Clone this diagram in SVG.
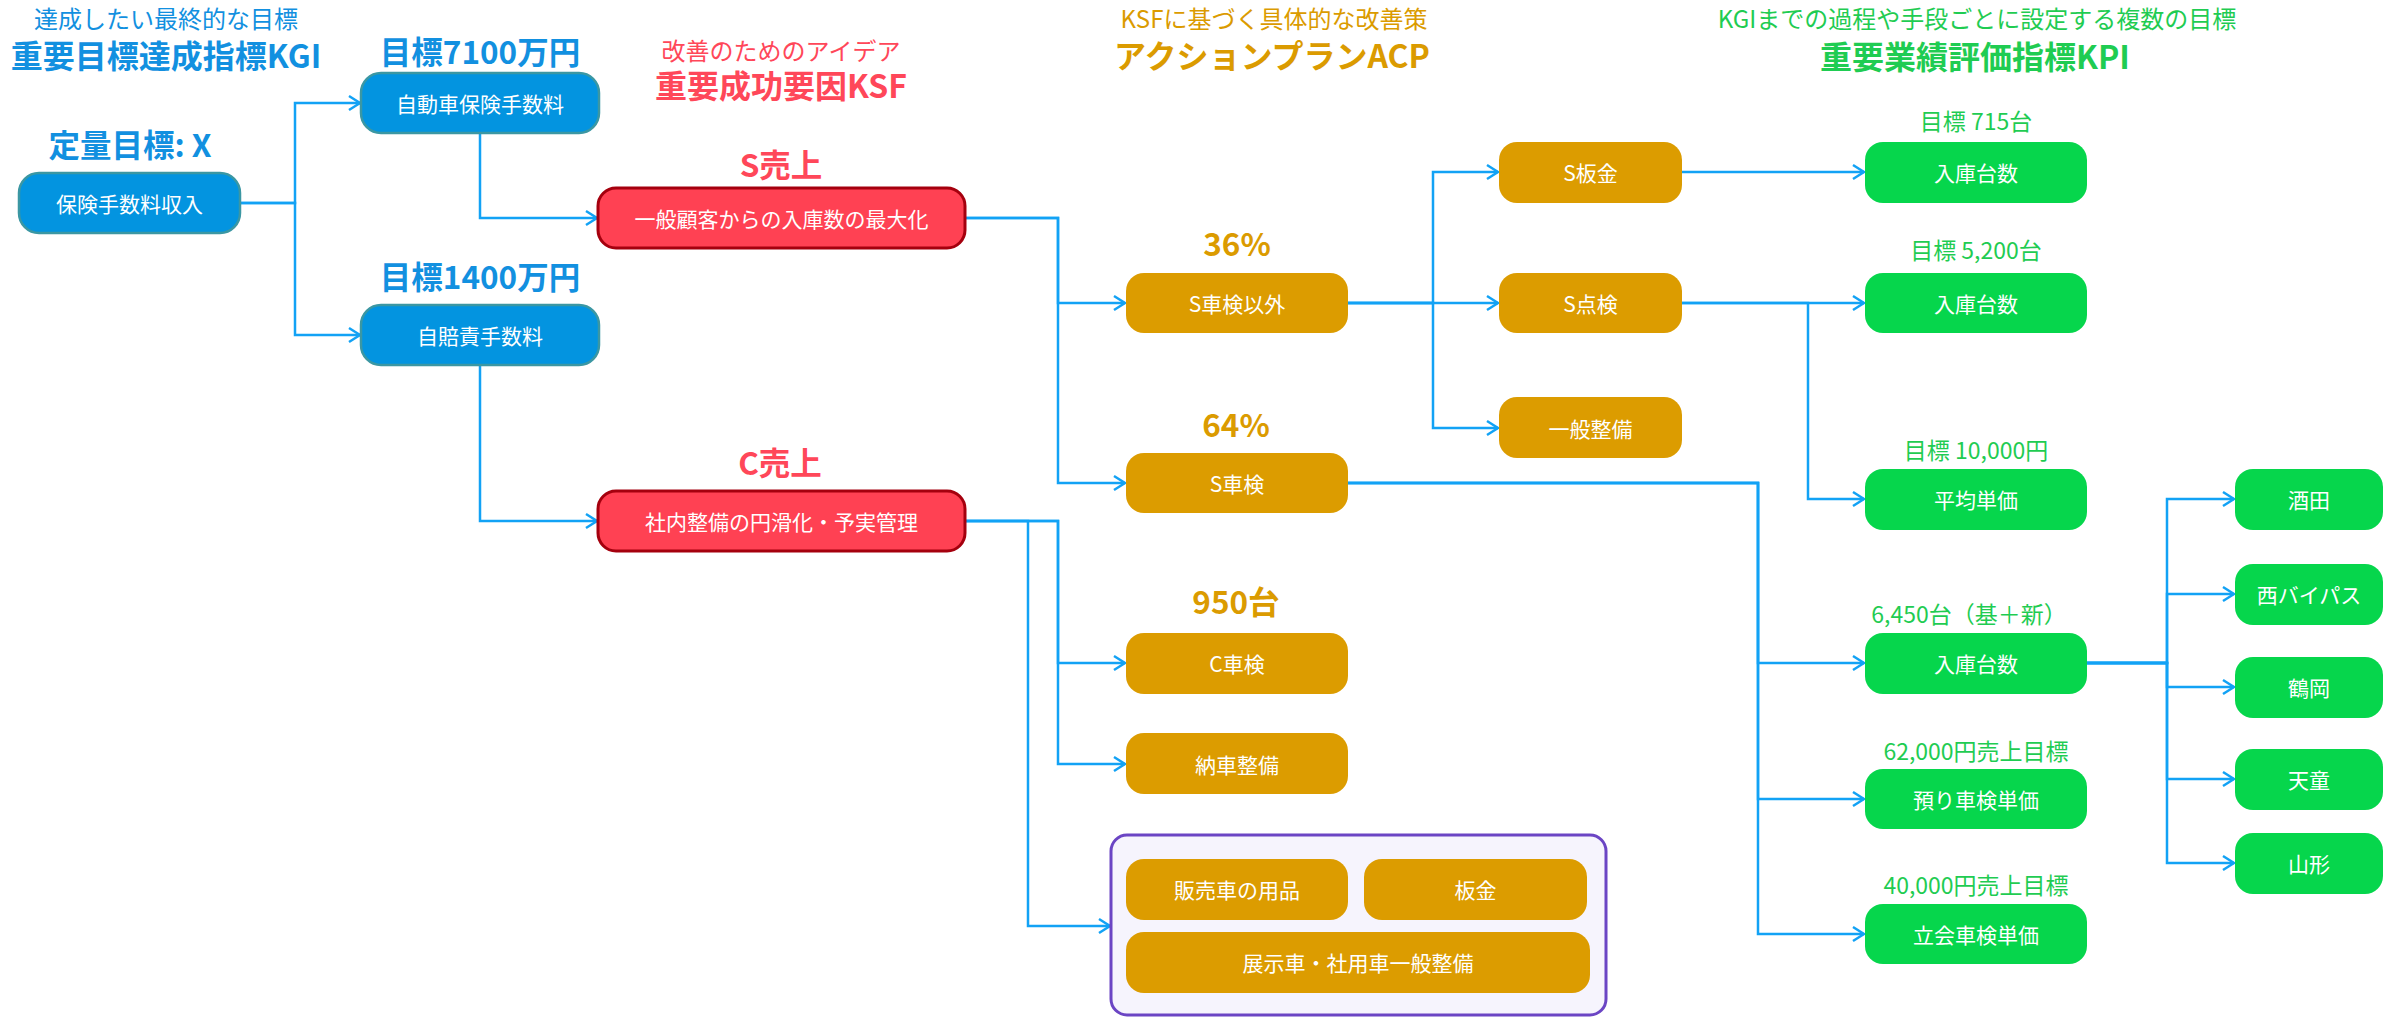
<svg xmlns="http://www.w3.org/2000/svg" width="2389" height="1017" viewBox="0 0 2389 1017">
<style>
text{font-family:"Noto Sans CJK JP","Noto Sans",sans-serif;text-anchor:middle;dominant-baseline:central}
.t{font-size:21px;fill:#fff}
.blue rect{fill:#0394E0;stroke:#3B97A3;stroke-width:2.5}
.red rect{fill:#FF4153;stroke:#A5000E;stroke-width:3}
.gold rect{fill:#DC9C00}
.green rect{fill:#06D64C}
.h1{font-size:32px;font-weight:bold}
.h2{font-size:24px}
.lb{font-size:31.5px;font-weight:bold}
.gl{font-size:23px;fill:#1FCC52}
.cB{fill:#1290E0}.cR{fill:#FF4759}.cG{fill:#DB9B00}.cN{fill:#1FCC52}
#connectors path{fill:none;stroke:#12A2F5;stroke-width:2.5;marker-end:url(#arr)}
</style>
<defs>
<marker id="arr" markerUnits="userSpaceOnUse" markerWidth="18" markerHeight="18" refX="15" refY="9" orient="auto">
<path d="M4,2 L15,9 L4,16" fill="none" stroke="#12A2F5" stroke-width="2.5"/>
</marker>
</defs>
<rect width="2389" height="1017" fill="#fff"/>

<g id="headers">
<text class="h2 cB" x="166" y="17">達成したい最終的な目標</text>
<text class="h1 cB" x="166" y="54">重要目標達成指標KGI</text>
<text class="h2 cR" x="781" y="49">改善のためのアイデア</text>
<text class="h1 cR" x="781" y="84">重要成功要因KSF</text>
<text class="h2 cG" x="1274" y="17">KSFに基づく具体的な改善策</text>
<text class="h1 cG" x="1272" y="54">アクションプランACP</text>
<text class="h2 cN" x="1977" y="17">KGIまでの過程や手段ごとに設定する複数の目標</text>
<text class="h1 cN" x="1975" y="55">重要業績評価指標KPI</text>
</g>

<g id="labels">
<text class="lb cB" x="130" y="143">定量目標: X</text>
<text class="lb cB" x="480" y="50">目標7100万円</text>
<text class="lb cB" x="480" y="275">目標1400万円</text>
<text class="lb cR" x="781" y="163">S売上</text>
<text class="lb cR" x="780" y="461">C売上</text>
<text class="lb cG" x="1237" y="242">36%</text>
<text class="lb cG" x="1236" y="423">64%</text>
<text class="lb cG" x="1236" y="600">950台</text>
<text class="gl" x="1976" y="120">目標 715台</text>
<text class="gl" x="1976" y="249">目標 5,200台</text>
<text class="gl" x="1976" y="449">目標 10,000円</text>
<text class="gl" x="1969" y="613">6,450台（基＋新）</text>
<text class="gl" x="1976" y="750">62,000円売上目標</text>
<text class="gl" x="1976" y="884">40,000円売上目標</text>
</g>

<g id="connectors">
<path d="M240,203 H295 V103 H360"/>
<path d="M240,203 H295 V335 H360"/>
<path d="M480,133 V218 H597"/>
<path d="M480,365 V521 H597"/>
<path d="M965,218 H1058 V303 H1125"/>
<path d="M965,218 H1058 V483 H1125"/>
<path d="M964,521 H1058 V663 H1125"/>
<path d="M964,521 H1058 V764 H1125"/>
<path d="M964,521 H1028 V926 H1110"/>
<path d="M1348,303 H1433 V172 H1498"/>
<path d="M1348,303 H1498"/>
<path d="M1348,303 H1433 V428 H1498"/>
<path d="M1682,172 H1864"/>
<path d="M1682,303 H1864"/>
<path d="M1682,303 H1808 V499 H1864"/>
<path d="M1348,483 H1758 V663 H1864"/>
<path d="M1348,483 H1758 V799 H1864"/>
<path d="M1348,483 H1758 V934 H1864"/>
<path d="M2087,663 H2167 V499 H2234"/>
<path d="M2087,663 H2167 V594 H2234"/>
<path d="M2087,663 H2167 V687 H2234"/>
<path d="M2087,663 H2167 V779 H2234"/>
<path d="M2087,663 H2167 V863 H2234"/>
</g>

<g id="n-income" class="blue"><rect x="19" y="173" width="221" height="60" rx="20"/><text class="t" x="129.5" y="203">保険手数料収入</text></g>
<g id="n-auto" class="blue"><rect x="361" y="73" width="238" height="60" rx="20"/><text class="t" x="480" y="103">自動車保険手数料</text></g>
<g id="n-jibai" class="blue"><rect x="361" y="305" width="238" height="60" rx="20"/><text class="t" x="480" y="335">自賠責手数料</text></g>

<g id="n-ksf1" class="red"><rect x="598" y="188" width="367" height="60" rx="18"/><text class="t" x="781.5" y="218">一般顧客からの入庫数の最大化</text></g>
<g id="n-ksf2" class="red"><rect x="598" y="491" width="367" height="60" rx="18"/><text class="t" x="781.5" y="521">社内整備の円滑化・予実管理</text></g>

<g id="n-s-other" class="gold"><rect x="1126" y="273" width="222" height="60" rx="18"/><text class="t" x="1237" y="303">S車検以外</text></g>
<g id="n-s-shaken" class="gold"><rect x="1126" y="453" width="222" height="60" rx="18"/><text class="t" x="1237" y="483">S車検</text></g>
<g id="n-c-shaken" class="gold"><rect x="1126" y="633" width="222" height="61" rx="18"/><text class="t" x="1237" y="663">C車検</text></g>
<g id="n-nousha" class="gold"><rect x="1126" y="733" width="222" height="61" rx="18"/><text class="t" x="1237" y="764">納車整備</text></g>

<g id="n-group">
<rect x="1111" y="835" width="495" height="180" rx="16" fill="#F6F4FD" stroke="#6B45C4" stroke-width="3"/>
<g id="n-youhin" class="gold"><rect x="1126" y="859" width="222" height="61" rx="18"/><text class="t" x="1237" y="889">販売車の用品</text></g>
<g id="n-bankin" class="gold"><rect x="1364" y="859" width="223" height="61" rx="18"/><text class="t" x="1475.5" y="889">板金</text></g>
<g id="n-tenji" class="gold"><rect x="1126" y="932" width="464" height="61" rx="18"/><text class="t" x="1358" y="962">展示車・社用車一般整備</text></g>
</g>

<g id="n-s-bankin" class="gold"><rect x="1499" y="142" width="183" height="61" rx="18"/><text class="t" x="1590.5" y="172">S板金</text></g>
<g id="n-s-tenken" class="gold"><rect x="1499" y="273" width="183" height="60" rx="18"/><text class="t" x="1590.5" y="303">S点検</text></g>
<g id="n-ippan" class="gold"><rect x="1499" y="397" width="183" height="61" rx="18"/><text class="t" x="1590.5" y="428">一般整備</text></g>

<g id="n-kpi1" class="green"><rect x="1865" y="142" width="222" height="61" rx="18"/><text class="t" x="1976" y="172">入庫台数</text></g>
<g id="n-kpi2" class="green"><rect x="1865" y="273" width="222" height="60" rx="18"/><text class="t" x="1976" y="303">入庫台数</text></g>
<g id="n-kpi3" class="green"><rect x="1865" y="469" width="222" height="61" rx="18"/><text class="t" x="1976" y="499">平均単価</text></g>
<g id="n-kpi4" class="green"><rect x="1865" y="633" width="222" height="61" rx="18"/><text class="t" x="1976" y="663">入庫台数</text></g>
<g id="n-kpi5" class="green"><rect x="1865" y="769" width="222" height="60" rx="18"/><text class="t" x="1976" y="799">預り車検単価</text></g>
<g id="n-kpi6" class="green"><rect x="1865" y="904" width="222" height="60" rx="18"/><text class="t" x="1976" y="934">立会車検単価</text></g>

<g id="n-sakata" class="green"><rect x="2235" y="469" width="148" height="61" rx="18"/><text class="t" x="2309" y="499">酒田</text></g>
<g id="n-nishi" class="green"><rect x="2235" y="564" width="148" height="61" rx="18"/><text class="t" x="2309" y="594">西バイパス</text></g>
<g id="n-tsuruoka" class="green"><rect x="2235" y="657" width="148" height="61" rx="18"/><text class="t" x="2309" y="687">鶴岡</text></g>
<g id="n-tendo" class="green"><rect x="2235" y="749" width="148" height="61" rx="18"/><text class="t" x="2309" y="779">天童</text></g>
<g id="n-yamagata" class="green"><rect x="2235" y="833" width="148" height="61" rx="18"/><text class="t" x="2309" y="863">山形</text></g>
</svg>
